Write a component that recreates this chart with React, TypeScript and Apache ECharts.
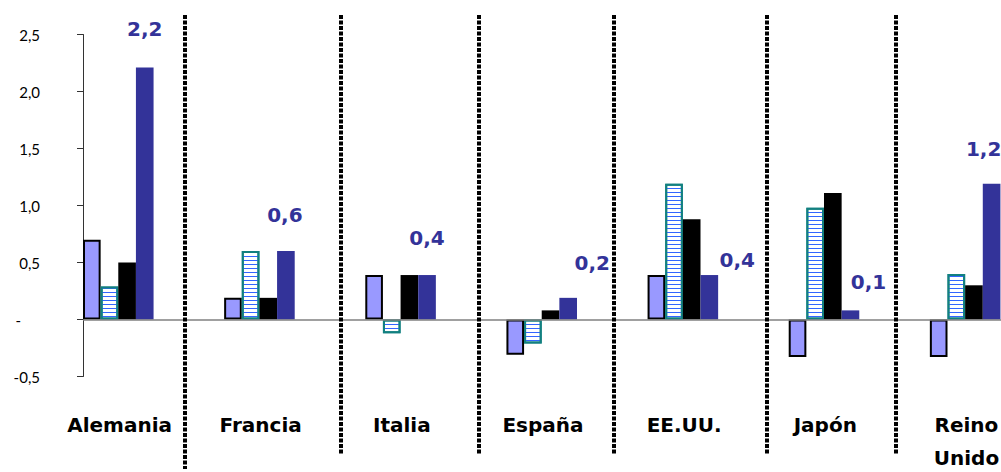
import React, { useEffect, useRef } from "react";
import * as echarts from "echarts";

// ---- data ----
const categories = ["Alemania", "Francia", "Italia", "España", "EE.UU.", "Japón", "Reino\nUnido"];
const serie1 = [0.7, 0.19, 0.39, -0.31, 0.39, -0.33, -0.33];
const serie2 = [0.29, 0.6, -0.12, -0.21, 1.19, 0.98, 0.4];
const serie3 = [0.5, 0.19, 0.39, 0.08, 0.88, 1.11, 0.3];
const serie4 = [2.21, 0.6, 0.39, 0.19, 0.39, 0.08, 1.19];
const yMin = -0.5;
const yMax = 2.5;
const yInterval = 0.5;

// ---- layout (not data) ----
const labelOffsets = [
  [0, -29],
  [-1, -26],
  [0, -27],
  [24, -25],
  [28, -5],
  [18, -18],
  [-8, -25],
];
const separatorX = [185, 341, 479, 614, 767, 896];
const separatorBottom = [469, 455, 455, 455, 455, 455];

const fmt = (v: number) => v.toFixed(1).replace(".", ",");

export default function App() {
  const ref = useRef<HTMLDivElement>(null);
  useEffect(() => {
    if (!ref.current) return;
    const chart = echarts.init(ref.current, undefined, { renderer: "svg" });
    const empty = categories.map(() => null);
    const option: any = {
      animation: false,
      backgroundColor: "#ffffff",
      grid: {
        left: 83,
        width: 988,
        top: 34.5,
        height: 342,
        containLabel: false,
        outerBoundsMode: "none",
      },
      xAxis: {
        type: "category",
        data: categories,
        axisLine: { show: false, onZero: false },
        axisTick: { show: false },
        splitLine: { show: false },
        axisLabel: {
          interval: 0,
          margin: 32,
          fontFamily: "DejaVu Sans",
          fontWeight: "bold",
          fontSize: 20,
          lineHeight: 33,
          color: "#000",
          padding: [0, 68, 0, 0],
          verticalAlign: "top",
        },
      },
      yAxis: {
        type: "value",
        min: yMin,
        max: yMax,
        interval: yInterval,
        axisLine: { show: true, lineStyle: { color: "#333", width: 1 } },
        axisTick: { show: true, length: 6, lineStyle: { color: "#333", width: 1 } },
        splitLine: { show: false },
        axisLabel: {
          margin: 43,
          fontFamily: "Lato",
          fontSize: 15,
          color: "#000",
          formatter: (v: number) => (Math.abs(v) < 1e-9 ? "{z|-}" : fmt(v)),
          rich: { z: { padding: [0, 19, 0, 0], fontFamily: "Lato", fontSize: 15, color: "#000" } },
        },
      },
      series: [
        {
          type: "bar",
          name: "Serie 1",
          data: serie1,
          barGap: "0%",
          barCategoryGap: "0%",
          itemStyle: { color: "#9999FF", borderColor: "#000", borderWidth: 2 },
          markLine: {
            silent: true,
            symbol: "none",
            label: { show: false },
            lineStyle: { color: "#808080", width: 1.5, type: "solid" },
            data: [{ yAxis: 0 }],
          },
        },
        {
          type: "bar",
          name: "Serie 2",
          data: serie2,
          barGap: "0%",
          barCategoryGap: "0%",
          itemStyle: {
            color: "#ffffff",
            borderColor: "#128080",
            borderWidth: 2,
            decal: {
              symbol: "rect",
              symbolSize: 1,
              symbolKeepAspect: false,
              color: "#3366FF",
              dashArrayX: [1, 0],
              dashArrayY: [1, 2.8],
              rotation: 0,
            },
          },
        },
        {
          type: "bar",
          name: "Serie 3",
          data: serie3,
          barGap: "0%",
          barCategoryGap: "0%",
          itemStyle: { color: "#000000" },
        },
        {
          type: "bar",
          name: "Serie 4",
          data: serie4.map((v, i) => ({
            value: v,
            label: { offset: labelOffsets[i] },
          })),
          barGap: "0%",
          barCategoryGap: "0%",
          itemStyle: { color: "#333399" },
          label: {
            show: true,
            position: "top",
            distance: 0,
            fontFamily: "DejaVu Sans",
            fontWeight: "bold",
            fontSize: 20,
            color: "#333399",
            formatter: (p: any) => fmt(p.value),
          },
        },
        { type: "bar", name: "e1", data: empty, barGap: "0%", barCategoryGap: "0%" },
        { type: "bar", name: "e2", data: empty, barGap: "0%", barCategoryGap: "0%" },
        { type: "bar", name: "e3", data: empty, barGap: "0%", barCategoryGap: "0%" },
        { type: "bar", name: "e4", data: empty, barGap: "0%", barCategoryGap: "0%" },
      ],
      graphic: separatorX.map((x, i) => ({
        type: "line",
        shape: { x1: x, y1: 15, x2: x, y2: separatorBottom[i] },
        style: { stroke: "#000", lineWidth: 4, lineDash: [4, 1.5] },
        silent: true,
        z: 100,
      })),
    };
    chart.setOption(option);
    return () => chart.dispose();
  }, []);
  return (
    <div
      ref={ref}
      style={{ position: "absolute", left: 0, top: 0, width: 1001, height: 472 }}
    />
  );
}
